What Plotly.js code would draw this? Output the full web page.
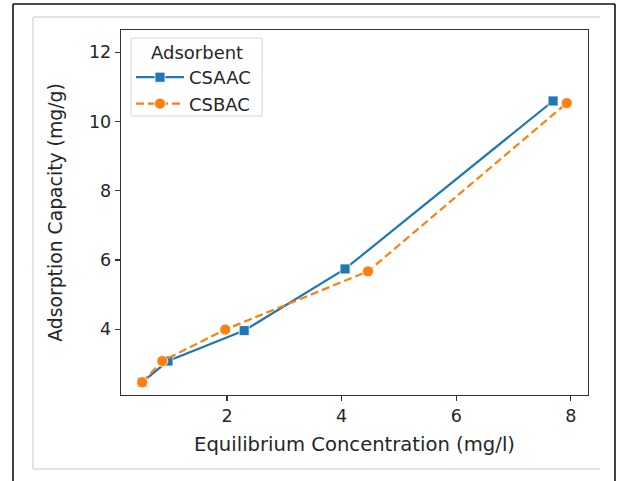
<!DOCTYPE html>
<html>
<head>
<meta charset="utf-8">
<script src="https://cdn.plot.ly/plotly-3.0.1.min.js"></script>
<style>
html,body{margin:0;padding:0;background:#fff;}
#chart{width:624px;height:481px;}
</style>
</head>
<body>
<div id="chart"></div>
<script>
// Data
const seriesNames = ["CSAAC", "CSBAC"];
const legendTitle = "Adsorbent";
const csaacX = [0.52, 0.97, 2.30, 4.06, 7.69];
const csaacY = [2.47, 3.08, 3.96, 5.74, 10.59];
const csbacX = [0.52, 0.87, 1.97, 4.46, 7.93];
const csbacY = [2.47, 3.08, 3.99, 5.67, 10.53];
const xTicks = [2, 4, 6, 8];
const yTicks = [4, 6, 8, 10, 12];

const blue = "#1f77b4", orange = "#ff7f0e";
const font = "DejaVu Sans, sans-serif";
const txt = "#262626";

const traces = [
  {
    x: csaacX, y: csaacY, name: seriesNames[0], type: "scatter", mode: "lines+markers",
    line: {color: blue, width: 2.2},
    marker: {symbol: "square", size: 10, color: blue, line: {color: "#fff", width: 0.8}}
  },
  {
    x: csbacX, y: csbacY, name: seriesNames[1], type: "scatter", mode: "lines+markers",
    line: {color: orange, width: 2.2, dash: "8px,4px"},
    marker: {symbol: "circle", size: 11, color: orange, line: {color: "#fff", width: 0.8}}
  }
];

function px2x(p){ return (p - 121) / 467; }
function px2y(p){ return (395 - p) / 365; }

const shapes = [
  // outer black frame (left, top, right)
  {type:"line", xref:"paper", yref:"paper", x0:px2x(13), x1:px2x(13), y0:px2y(4), y1:px2y(481), line:{color:"#111", width:1.6}},
  {type:"line", xref:"paper", yref:"paper", x0:px2x(13), x1:px2x(615), y0:px2y(4), y1:px2y(4), line:{color:"#111", width:1.6}},
  {type:"line", xref:"paper", yref:"paper", x0:px2x(615), x1:px2x(615), y0:px2y(4), y1:px2y(481), line:{color:"#111", width:1.6}},
  // inner light grey box (left, top, bottom)
  {type:"line", xref:"paper", yref:"paper", x0:px2x(33), x1:px2x(33), y0:px2y(17), y1:px2y(469), line:{color:"#e3e3e3", width:2}},
  {type:"line", xref:"paper", yref:"paper", x0:px2x(33), x1:px2x(600), y0:px2y(17), y1:px2y(17), line:{color:"#e3e3e3", width:2}},
  {type:"line", xref:"paper", yref:"paper", x0:px2x(33), x1:px2x(600), y0:px2y(469), y1:px2y(469), line:{color:"#e3e3e3", width:2}},
  // legend frame
  {type:"rect", xref:"paper", yref:"paper", layer:"below", x0:px2x(131), x1:px2x(262), y0:px2y(116), y1:px2y(38),
   fillcolor:"#fff", line:{color:"#d6d6d6", width:1}}
];

const layout = {
  width: 624, height: 481,
  margin: {l: 121, r: 36, t: 30, b: 86},
  paper_bgcolor: "#fff", plot_bgcolor: "#fff",
  font: {family: font, size: 18, color: txt},
  showlegend: true,
  legend: {
    x: px2x(131), y: px2y(59), xanchor: "left", yanchor: "top",
    bgcolor: "rgba(0,0,0,0)", borderwidth: 0,
    font: {family: font, size: 18, color: txt},
    tracegroupgap: 0, itemwidth: 48
  },
  annotations: [
    {text: legendTitle, xref: "paper", yref: "paper", x: px2x(196.5), y: px2y(53),
     xanchor: "center", yanchor: "middle", showarrow: false,
     font: {family: font, size: 18, color: txt}}
  ],
  xaxis: {
    range: [0.15, 8.30], tickvals: xTicks, ticktext: xTicks.map(String),
    showgrid: false, zeroline: false,
    showline: true, mirror: true, linecolor: "#333", linewidth: 1.3,
    ticks: "outside", ticklen: 5, tickcolor: "#333", tickwidth: 1.2,
    tickfont: {family: font, size: 17.5, color: txt},
    title: {text: "Equilibrium Concentration (mg/l)", font: {family: font, size: 19.6, color: txt}, standoff: 12}
  },
  yaxis: {
    range: [2.10, 12.64], tickvals: yTicks, ticktext: yTicks.map(String),
    showgrid: false, zeroline: false,
    showline: true, mirror: true, linecolor: "#333", linewidth: 1.3,
    ticks: "outside", ticklen: 5, tickcolor: "#333", tickwidth: 1.2,
    tickfont: {family: font, size: 17.5, color: txt},
    title: {text: "Adsorption Capacity (mg/g)", font: {family: font, size: 18.8, color: txt}, standoff: 21}
  },
  shapes: shapes
};

Plotly.newPlot("chart", traces, layout, {displayModeBar: false, staticPlot: true});
</script>
</body>
</html>
